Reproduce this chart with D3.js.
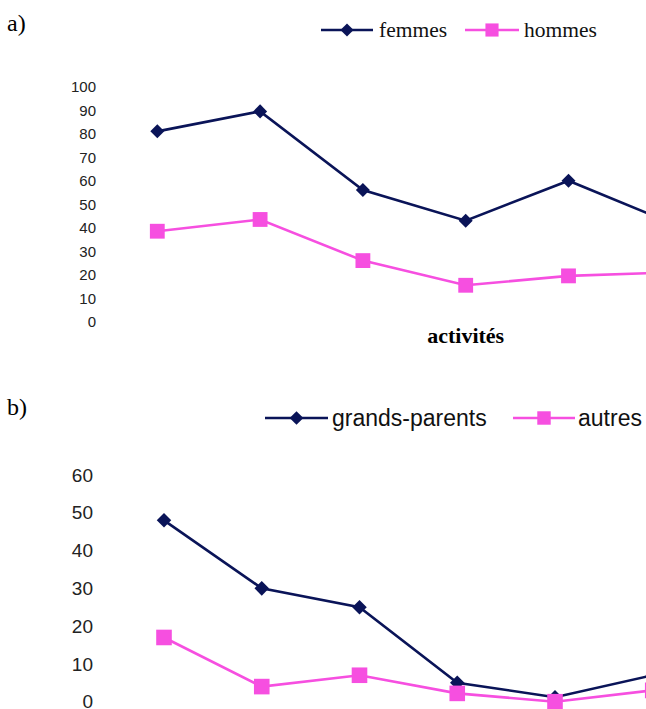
<!DOCTYPE html>
<html>
<head>
<meta charset="utf-8">
<script src="https://cdn.jsdelivr.net/npm/d3@7"></script>
<style>
  html, body { margin: 0; padding: 0; background: #fff; }
  svg { display: block; }
</style>
</head>
<body>
<svg id="chart" width="646" height="709"></svg>
<script>
// ---- Data ----
const categoriesA = ["1", "2", "3", "4", "5", "6", "7"];
const femmes = [81, 89.5, 56, 43, 60, 42, null];
const hommes = [38.5, 43.5, 26, 15.5, 19.5, 21, null];
const ticksA = [0, 10, 20, 30, 40, 50, 60, 70, 80, 90, 100];

const categoriesB = ["1", "2", "3", "4", "5", "6", "7"];
const grandsParents = [48, 30, 25, 5, 1.2, 7, null];
const autres = [17, 4, 7, 2.2, 0, 3, null];
const ticksB = [0, 10, 20, 30, 40, 50, 60];

const NAVY = "#0a1458";
const PINK = "#f64fe0";

const svg = d3.select("#chart");

function symbolPath(shape, size) {
  return d3.symbol().type(shape === "diamond" ? d3.symbolDiamond2 : d3.symbolSquare2).size(size)();
}

function panel(opts) {
  const g = svg.append("g");
  const x = d3.scalePoint().domain(opts.categories).range(opts.xRange);
  const y = d3.scaleLinear().domain(opts.yDomain).range(opts.yRange);

  const ax = g.append("g")
    .attr("transform", `translate(${opts.axisX},0)`)
    .call(d3.axisLeft(y).tickValues(opts.ticks).tickSize(0).tickPadding(0));
  ax.select(".domain").remove();
  ax.selectAll("text")
    .attr("font-family", "Liberation Sans, Arial, sans-serif")
    .attr("font-size", opts.tickFont)
    .attr("fill", "#222");

  opts.series.forEach(s => {
    const pts = opts.categories.map((c, i) => ({ c, v: s.values[i] }))
      .filter(d => d.v != null);
    const line = d3.line().x(d => x(d.c)).y(d => y(d.v));
    g.append("path").datum(pts)
      .attr("d", line)
      .attr("fill", "none")
      .attr("stroke", s.color)
      .attr("stroke-width", 2.6);
    const p = symbolPath(s.shape, s.size);
    g.selectAll(null).data(pts).enter().append("path")
      .attr("d", p)
      .attr("transform", d => `translate(${x(d.c)},${y(d.v)})`)
      .attr("fill", s.color);
  });
  return { x, y, g };
}

// ---- Panel a ----
panel({
  categories: categoriesA,
  xRange: [157.3, 774.1],
  yDomain: [0, 100],
  yRange: [321.7, 86.7],
  ticks: ticksA,
  axisX: 96,
  tickFont: "15px",
  series: [
    { values: femmes, color: NAVY, shape: "diamond", size: 125 },
    { values: hommes, color: PINK, shape: "square", size: 280 }
  ]
});

svg.append("text").attr("x", 7).attr("y", 31)
  .attr("font-family", "Liberation Serif, Times New Roman, serif")
  .attr("font-size", 24).text("a)");

svg.append("text").attr("x", 465.7).attr("y", 343)
  .attr("text-anchor", "middle")
  .attr("font-family", "Liberation Serif, Times New Roman, serif")
  .attr("font-weight", "bold")
  .attr("font-size", 22).text("activités");

function legend(items, y, textY, font, size) {
  items.forEach(it => {
    svg.append("line").attr("x1", it.x1).attr("x2", it.x2).attr("y1", y).attr("y2", y)
      .attr("stroke", it.color).attr("stroke-width", 2.6);
    svg.append("path").attr("d", symbolPath(it.shape, it.size))
      .attr("transform", `translate(${(it.x1 + it.x2) / 2},${y})`)
      .attr("fill", it.color);
    svg.append("text").attr("x", it.tx).attr("y", textY)
      .attr("font-family", font).attr("font-size", size)
      .attr("fill", "#111").text(it.label);
  });
}

legend([
  { label: "femmes", color: NAVY, shape: "diamond", size: 110, x1: 321, x2: 373, tx: 379 },
  { label: "hommes", color: PINK, shape: "square", size: 220, x1: 465, x2: 519, tx: 524 }
], 30, 36.5, "Liberation Serif, Times New Roman, serif", 21.5);

// ---- Panel b ----
panel({
  categories: categoriesB,
  xRange: [164, 750.5],
  yDomain: [0, 60],
  yRange: [701.7, 475],
  ticks: ticksB,
  axisX: 93,
  tickFont: "19px",
  series: [
    { values: grandsParents, color: NAVY, shape: "diamond", size: 135 },
    { values: autres, color: PINK, shape: "square", size: 310 }
  ]
});

svg.append("text").attr("x", 7).attr("y", 415)
  .attr("font-family", "Liberation Serif, Times New Roman, serif")
  .attr("font-size", 24).text("b)");

legend([
  { label: "grands-parents", color: NAVY, shape: "diamond", size: 120, x1: 265, x2: 328, tx: 332 },
  { label: "autres", color: PINK, shape: "square", size: 230, x1: 513, x2: 575, tx: 578 }
], 418, 426, "Liberation Sans, Arial, sans-serif", 23);
</script>
</body>
</html>
